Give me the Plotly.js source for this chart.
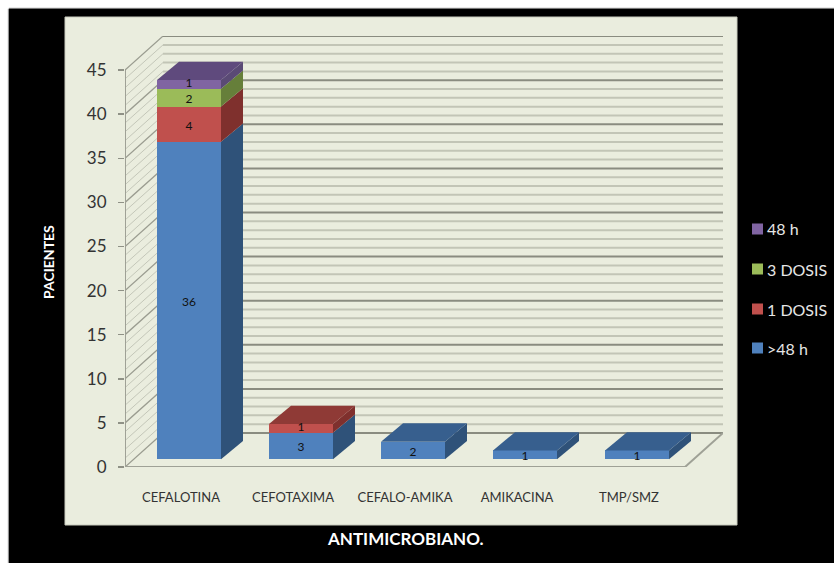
<!DOCTYPE html>
<html>
<head>
<meta charset="utf-8">
<script src="https://cdn.plot.ly/plotly-3.0.1.min.js"></script>
<style>
  html, body { margin: 0; padding: 0; background: #fff; overflow: hidden; }
  #chart { position: absolute; left: 9px; top: 9px; width: 825px; height: 554px; box-shadow: 0 -1px 1px #777, -1px 0 1px #999; }
</style>
</head>
<body>
<div id="chart"></div>
<script>
// Patients per antimicrobial, stacked by duration of prophylaxis
const categories = ['CEFALOTINA', 'CEFOTAXIMA', 'CEFALO-AMIKA', 'AMIKACINA', 'TMP/SMZ'];
const over48h   = [36, 3, 2, 1, 1];
const oneDose   = [4, 1, 0, 0, 0];
const threeDose = [2, 0, 0, 0, 0];
const h48       = [1, 0, 0, 0, 0];
const yTicks = [0, 5, 10, 15, 20, 25, 30, 35, 40, 45];

const stack = [
  { name: '>48 h',   values: over48h,   front: '#4F81BD', side: '#2F5279', top: '#375F8E' },
  { name: '1 DOSIS', values: oneDose,   front: '#C0504D', side: '#7F302D', top: '#8F3A36' },
  { name: '3 DOSIS', values: threeDose, front: '#9BBB59', side: '#667F3A', top: '#6F8A40' },
  { name: '48 h',    values: h48,       front: '#8064A2', side: '#5A4A75', top: '#5F4A7D' }
];

// Pixel box of the drawing area inside the 825x554 figure
const W = 825, H = 554;
const M = { l: 116, r: 111, t: 27, b: 96 };
const plotW = W - M.l - M.r, plotH = H - M.t - M.b;
const catPx = 112, unitPx = 8.82;

// Depth of the walls and of the bars, expressed in axis units
const wallDX = 38 / catPx, wallDY = 34 / unitPx;
const barDX = 22 / catPx, barDY = 18.3 / unitPx;
const barHalf = 32 / catPx;
const xMin = -0.5, xMax = xMin + plotW / catPx;
const yMax = plotH / unitPx;

const px = x => (x - 9 - M.l) / plotW;
const py = y => 1 - (y - 9 - M.t) / plotH;

// Walls and floor of the box
function segments(list) {
  const xs = [], ys = [];
  list.forEach(s => { xs.push(s[0], s[2], null); ys.push(s[1], s[3], null); });
  return { x: xs, y: ys };
}
const minorLevels = [], majorLevels = [];
for (let v = 0; v <= 45; v++) (v % 5 === 0 ? majorLevels : minorLevels).push(v);

const wallRight = xMin + wallDX + 560 / catPx;
const backLines = lv => lv.map(v => [xMin + wallDX, v + wallDY, wallRight, v + wallDY]);
const sideLines = lv => lv.map(v => [xMin, v, xMin + wallDX, v + wallDY]);
const lineTrace = (list, color, width) => Object.assign(segments(list), {
  type: 'scatter', mode: 'lines', line: { color, width }, hoverinfo: 'skip', showlegend: false
});

const frame = [
  [xMin, 0, xMin, 45],
  [xMin, 0, wallRight - wallDX, 0],
  [wallRight - wallDX, 0, wallRight, wallDY]
];

const traces = [
  lineTrace(sideLines(minorLevels), '#C4C7B9', 1),
  lineTrace(sideLines(majorLevels), '#9A9C90', 1.3),
  lineTrace(backLines(minorLevels), '#C2C5B6', 2),
  lineTrace(backLines(majorLevels), '#8A8C80', 2),
  lineTrace(frame, '#9FA196', 2)
];

// Front faces of the stacked bars
stack.forEach(s => traces.push({
  type: 'bar', name: s.name, x: categories.map((_, i) => i), y: s.values,
  xaxis: 'x2', yaxis: 'y2', width: 2 * barHalf,
  marker: { color: s.front, line: { width: 0 } }, showlegend: false, hoverinfo: 'name+y'
}));

// Side and top faces of each segment, plus the value labels.
// Labels sit a little below the middle, except a capping segment on a taller stack.
const labelDrop = 2.4 / unitPx;
const labelX = [], labelY = [], labelText = [];
categories.forEach((_, i) => {
  const present = stack.filter(s => s.values[i]);
  let base = 0;
  present.forEach((s, k) => {
    const v = s.values[i];
    const r = i + barHalf, next = base + v;
    traces.push({
      type: 'scatter', mode: 'lines', fill: 'toself', fillcolor: s.side, line: { width: 0 },
      x: [r, r + barDX, r + barDX, r, r], y: [base, base + barDY, next + barDY, next, base],
      xaxis: 'x2', yaxis: 'y2', hoverinfo: 'skip', showlegend: false
    });
    const capping = present.length > 1 && k === present.length - 1;
    labelX.push(i);
    labelY.push(base + v / 2 - (capping ? 0 : labelDrop));
    labelText.push(String(v));
    base = next;
  });
  const l = i - barHalf, r = i + barHalf;
  traces.push({
    type: 'scatter', mode: 'lines', fill: 'toself', fillcolor: present[present.length - 1].top, line: { width: 0 },
    x: [l, r, r + barDX, l + barDX, l], y: [base, base, base + barDY, base + barDY, base],
    xaxis: 'x2', yaxis: 'y2', hoverinfo: 'skip', showlegend: false
  });
});
traces.push({
  type: 'scatter', mode: 'text', x: labelX, y: labelY, text: labelText,
  textposition: 'middle center', textfont: { family: 'Lato', size: 12, color: '#111' },
  xaxis: 'x2', yaxis: 'y2', hoverinfo: 'skip', showlegend: false
});

// Key on the black band, top entry first
const keyRows = [...stack].reverse();
const keyY = [229, 269, 309, 348];
const keyShapes = keyRows.map((s, i) => ({
  type: 'rect', xref: 'paper', yref: 'paper', layer: 'above',
  x0: px(752), x1: px(763), y0: py(keyY[i] - 5.5), y1: py(keyY[i] + 5.5),
  fillcolor: s.front, line: { width: 0 }
}));
const keyLabels = keyRows.map((s, i) => ({
  xref: 'paper', yref: 'paper', x: px(765), y: py(keyY[i]), xanchor: 'left', yanchor: 'middle',
  text: s.name, showarrow: false, font: { family: 'Lato', size: 16, color: '#E6E6E6' }
}));

// Axis titles sit off-centre from the plot box, over the panel and the band
const titleLabels = [
  { xref: 'paper', yref: 'paper', x: px(405), y: py(538), xanchor: 'center', yanchor: 'middle',
    text: '<b>ANTIMICROBIANO.</b>', showarrow: false, font: { family: 'Lato', size: 17, color: '#fff' } },
  { xref: 'paper', yref: 'paper', x: px(48), y: py(262), xanchor: 'center', yanchor: 'middle', textangle: -90,
    text: '<b>PACIENTES</b>', showarrow: false, font: { family: 'Lato', size: 14, color: '#fff' } }
];

const layout = {
  width: W, height: H, margin: M,
  paper_bgcolor: '#000', plot_bgcolor: 'rgba(0,0,0,0)',
  barmode: 'stack', showlegend: false,
  font: { family: 'Lato' },
  xaxis: {
    range: [xMin, xMax], showgrid: false, zeroline: false, showline: false,
    tickvals: categories.map((_, i) => i), ticktext: categories,
    ticks: '', ticklabelstandoff: 21,
    tickfont: { family: 'Lato', size: 13, color: '#333' }
  },
  yaxis: {
    range: [0, yMax], showgrid: false, zeroline: false, showline: false,
    tickvals: yTicks, ticks: 'outside', ticklen: 6, tickwidth: 1.5, tickcolor: '#8F9186',
    ticklabelstandoff: 8,
    tickfont: { family: 'Lato', size: 17, color: '#333' }
  },
  // Bars stand slightly in from the front edge of the floor
  xaxis2: { overlaying: 'x', range: [xMin - 8 / catPx, xMax - 8 / catPx], visible: false },
  yaxis2: { overlaying: 'y', range: [-7.7 / unitPx, yMax - 7.7 / unitPx], visible: false },
  shapes: [{
    type: 'rect', xref: 'paper', yref: 'paper', layer: 'below',
    x0: px(65), x1: px(737), y0: py(525), y1: py(17),
    fillcolor: '#EAEDDE', line: { color: '#C9CBBE', width: 1 }
  }].concat(keyShapes),
  annotations: keyLabels.concat(titleLabels)
};

Plotly.newPlot('chart', traces, layout, { displayModeBar: false, staticPlot: true });
</script>
</body>
</html>
